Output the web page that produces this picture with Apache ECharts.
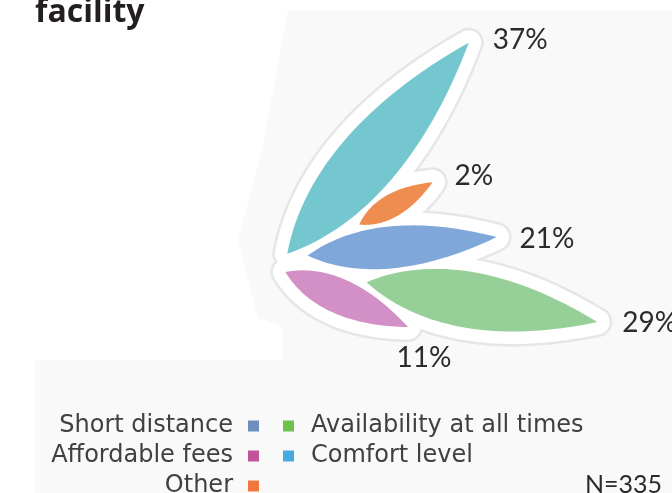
<!DOCTYPE html>
<html>
<head>
<meta charset="utf-8">
<script src="https://cdn.jsdelivr.net/npm/echarts@6/dist/echarts.min.js"></script>
<style>
  html, body { margin: 0; padding: 0; background: #ffffff; }
  #chart { width: 672px; height: 493px; }
</style>
</head>
<body>
<div id="chart"></div>
<script>
// Reasons for choosing the facility (share of respondents, %)
const categories = ['Comfort level', 'Other', 'Short distance', 'Availability at all times', 'Affordable fees'];
const shares = [37, 2, 21, 29, 11];
const respondents = 335;

// Legend columns
const legendLeft = ['Short distance', 'Affordable fees', 'Other'];
const legendRight = ['Availability at all times', 'Comfort level'];

// Petal layout: direction (degrees, counter-clockwise from east), base offset
// along / across the petal axis (px), maximum width (px), colours, label offset
const petalLayout = {
  'Comfort level':             { angle: 49.3, shift: 9.6, perp: 0,    width: 61, fill: '#75c7cf', key: '#45a9e2', label: [24, -3, 'left'] },
  'Other':                     { angle: 30.0, shift: 86,  perp: -7.6, width: 23, fill: '#ef8c50', key: '#f07840', label: [22, -6, 'left'] },
  'Short distance':            { angle: 5.6,  shift: 27,  perp: 2.8,  width: 42, fill: '#80a7da', key: '#6e8fbd', label: [23, 2, 'left'] },
  'Availability at all times': { angle: -9.8, shift: 88,  perp: -6.3, width: 56, fill: '#96cf97', key: '#6cc24a', label: [25, 1, 'left'] },
  'Affordable fees':           { angle: -24.2, shift: 8.4, perp: -8.2, width: 35, fill: '#d290c6', key: '#c0559a', label: [16, 31, 'center'] }
};

// Petal length scale: the radius axis maps a share to a petal length
const RADIUS_MIN = -13.3;
const RADIUS_MAX = 40;

const chart = echarts.init(document.getElementById('chart'), null, { renderer: 'canvas' });

function petalGeometry(api, lay) {
  const v = api.value(0);
  const a = api.value(1);
  const c = api.coord([RADIUS_MIN, a]);
  const t = api.coord([v, a]);
  const dx = t[0] - c[0], dy = t[1] - c[1];
  const L = Math.hypot(dx, dy);
  const u = [dx / L, dy / L];
  const n = [u[1], -u[0]];
  const base = [c[0] + lay.shift * u[0] + lay.perp * n[0], c[1] + lay.shift * u[1] + lay.perp * n[1]];
  const tip = [base[0] + L * u[0], base[1] + L * u[1]];
  return { base, tip, u, n, L };
}

// Leaf outline made of two cubic curves, sampled into a polygon
function petalPoints(g, w) {
  const k = w / 1.5;
  const at = (s, o) => [g.base[0] + s * g.L * g.u[0] + o * g.n[0], g.base[1] + s * g.L * g.u[1] + o * g.n[1]];
  const side = (sign) => {
    const p0 = g.base, p1 = at(0.25, sign * k), p2 = at(0.6, sign * k), p3 = g.tip;
    const pts = [];
    for (let i = 0; i <= 40; i++) {
      const t = i / 40, m = 1 - t;
      const b0 = m * m * m, b1 = 3 * m * m * t, b2 = 3 * m * t * t, b3 = t * t * t;
      pts.push([
        b0 * p0[0] + b1 * p1[0] + b2 * p2[0] + b3 * p3[0],
        b0 * p0[1] + b1 * p1[1] + b2 * p2[1] + b3 * p3[1]
      ]);
    }
    return pts;
  };
  const upper = side(1);
  const lower = side(-1).reverse();
  return upper.concat(lower.slice(1));
}

function haloSeries(lineWidth, color, z) {
  return {
    type: 'custom',
    name: 'halo' + z,
    coordinateSystem: 'polar',
    silent: true,
    z: z,
    data: categories.map((c, i) => [shares[i], petalLayout[c].angle]),
    renderItem: function (params, api) {
      const lay = petalLayout[categories[params.dataIndex]];
      const g = petalGeometry(api, lay);
      return {
        type: 'polygon',
        shape: { points: petalPoints(g, lay.width) },
        style: { fill: '#ffffff', stroke: color, lineWidth: lineWidth, lineJoin: 'round' }
      };
    }
  };
}

const petalSeries = categories.map((name, i) => {
  const lay = petalLayout[name];
  return {
    type: 'custom',
    name: name,
    coordinateSystem: 'polar',
    z: 5,
    itemStyle: { color: lay.key },
    data: [[shares[i], lay.angle]],
    renderItem: function (params, api) {
      const g = petalGeometry(api, lay);
      return {
        type: 'group',
        children: [
          {
            type: 'polygon',
            shape: { points: petalPoints(g, lay.width) },
            style: { fill: lay.fill }
          },
          {
            type: 'text',
            style: {
              x: g.tip[0] + lay.label[0],
              y: g.tip[1] + lay.label[1],
              text: api.value(0) + '%',
              align: lay.label[2],
              verticalAlign: 'middle',
              fontFamily: 'Lato',
              fontSize: 28,
              fill: '#2b2b2b'
            }
          }
        ]
      };
    }
  };
});

const legendText = {
  fontFamily: 'DejaVu Sans',
  fontSize: 24,
  lineHeight: 22,
  color: '#404040'
};

chart.setOption({
  animation: false,
  backgroundColor: '#ffffff',
  title: {
    text: 'facility',
    left: 30,
    top: -8,
    textStyle: { fontFamily: 'Open Sans', fontWeight: 'bold', fontSize: 32, color: '#231f20' }
  },
  polar: { center: [281, 261], radius: 295 },
  angleAxis: {
    type: 'value', min: 0, max: 360, startAngle: 0, clockwise: false,
    show: false
  },
  radiusAxis: {
    type: 'value', min: RADIUS_MIN, max: RADIUS_MAX,
    show: false
  },
  legend: [
    {
      data: legendLeft.map(name => ({ name, itemStyle: { color: petalLayout[name].key } })),
      orient: 'vertical',
      align: 'right',
      right: 413,
      top: 414,
      height: 120,
      padding: 0,
      icon: 'rect',
      itemWidth: 11,
      itemHeight: 11,
      itemGap: 6,
      selectedMode: false,
      textStyle: Object.assign({ padding: [0, 10, 0, 0] }, legendText)
    },
    {
      data: legendRight.map(name => ({ name, itemStyle: { color: petalLayout[name].key } })),
      orient: 'vertical',
      align: 'left',
      left: 283,
      top: 414,
      height: 120,
      padding: 0,
      icon: 'rect',
      itemWidth: 11,
      itemHeight: 11,
      itemGap: 6,
      selectedMode: false,
      textStyle: Object.assign({ padding: [0, 0, 0, 12] }, legendText)
    }
  ],
  graphic: [
    {
      type: 'polygon',
      z: -10,
      silent: true,
      shape: {
        points: [[288, 10], [672, 10], [672, 493], [35, 493], [35, 360], [282, 360],
                 [282, 327], [258, 318], [238, 240], [262, 150]]
      },
      style: { fill: '#f9f9f9' }
    },
    {
      type: 'text',
      left: 585,
      top: 472,
      style: {
        text: 'N=' + respondents,
        fontFamily: 'Lato',
        fontSize: 25,
        fill: '#2b2b2b'
      }
    }
  ],
  series: [haloSeries(30, '#e6e6e6', 1), haloSeries(25, '#ffffff', 2)].concat(petalSeries)
});
</script>
</body>
</html>
